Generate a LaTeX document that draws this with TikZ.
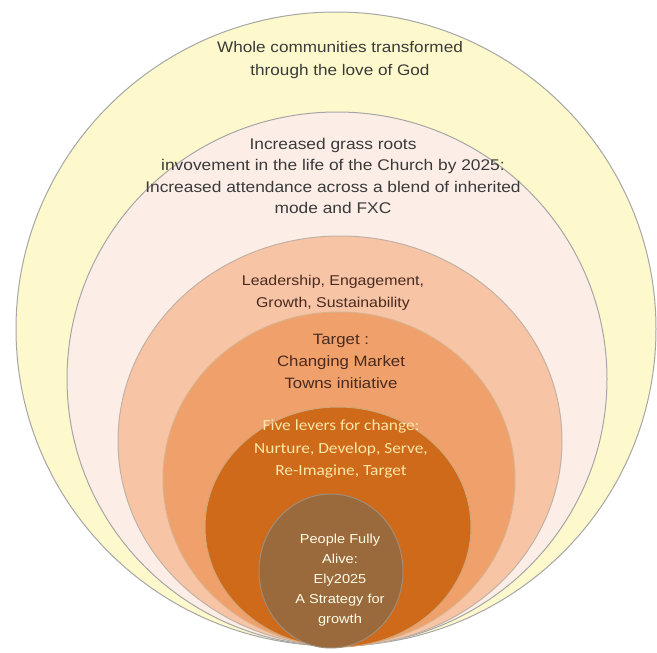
\documentclass[tikz,border=0pt]{standalone}
\usepackage{fontspec}
\setmainfont{Liberation Sans}[FakeStretch=1.12]
\newfontfamily\calib{Carlito}[FakeStretch=1.12]
\definecolor{cA}{HTML}{FDF9CC}
\definecolor{cB}{HTML}{FCEEE6}
\definecolor{cC}{HTML}{F7C4A6}
\definecolor{cD}{HTML}{F0A06A}
\definecolor{cE}{HTML}{CF6A1A}
\definecolor{cF}{HTML}{9A6A3C}
\definecolor{txtgray}{HTML}{3A3A3A}
\definecolor{txtbrown}{HTML}{4A2A1E}
\definecolor{txtlight}{HTML}{FCE6A8}
\begin{document}
\begin{tikzpicture}[x=1pt,y=-1pt,
  ring/.style={draw=#1,line width=1pt},
  lbl/.style={align=center,inner sep=0pt}]
\useasboundingbox (0,0) rectangle (657,653);
\fill[white] (0,0) rectangle (657,653);
\draw[ring=gray!70,fill=cA] (336,329) ellipse [x radius=320,y radius=317];
\draw[ring=gray!70,fill=cB] (337,379) ellipse [x radius=270,y radius=267];
\draw[ring=gray!60!brown!60,fill=cC] (340,441) ellipse [x radius=222,y radius=205];
\draw[ring=brown!60,fill=cD] (339,479) ellipse [x radius=176,y radius=167];
\draw[ring=brown!70,fill=cE] (338,527) ellipse [x radius=133,y radius=120];
\draw[ring=brown!50!black!60,fill=cF] (331,571) ellipse [x radius=72,y radius=77];
\node[lbl,font=\fontsize{15.3}{22.5}\selectfont,text=txtgray] (t1) at (340,60)
  {Whole communities transformed\\through the love of God};
\node[lbl,font=\fontsize{15.5}{21.5}\selectfont,text=txtgray] (t2) at (333,176)
  {Increased grass roots\\invovement in the life of the Church by 2025:\\Increased attendance across a blend of inherited\\mode and FXC};
\node[lbl,font=\fontsize{14.2}{21.5}\selectfont,text=txtbrown] (t3) at (333,293)
  {Leadership, Engagement,\\Growth, Sustainability};
\node[lbl,font=\fontsize{15}{22}\selectfont,text=txtbrown] (t4) at (341,361)
  {Target :\\Changing Market\\Towns initiative};
\node[lbl,font=\calib\fontsize{15.5}{22.5}\selectfont,text=txtlight] (t5) at (341,449)
  {Five levers for change:\\Nurture, Develop, Serve,\\Re-Imagine, Target};
\node[lbl,font=\fontsize{13}{20}\selectfont,text=white!92!yellow] (t6) at (340,580)
  {People Fully\\Alive:\\Ely2025\\A Strategy for\\growth};
\end{tikzpicture}
\end{document}
